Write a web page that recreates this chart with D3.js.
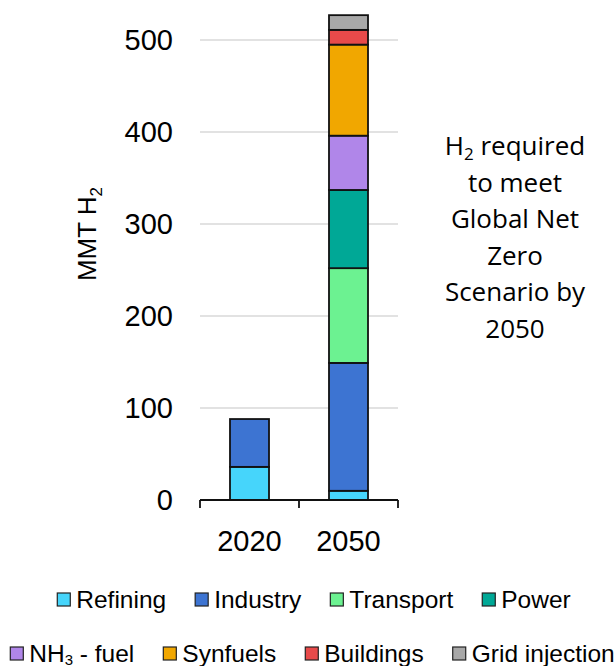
<!DOCTYPE html>
<html>
<head>
<meta charset="utf-8">
<script src="https://cdn.jsdelivr.net/npm/d3@7"></script>
<style>
  html, body { margin: 0; padding: 0; background: #fff; }
  svg { display: block; }
</style>
</head>
<body>
<svg id="chart" width="614" height="666"></svg>
<script>
// Hydrogen demand by end use, million metric tonnes of H2
const years = ["2020", "2050"];
const sectors = ["Refining", "Industry", "Transport", "Power", "NH3 - fuel", "Synfuels", "Buildings", "Grid injection"];
const refining   = [36, 10];
const industry   = [52, 139];
const transport  = [0, 103];
const power      = [0, 85];
const nh3Fuel    = [0, 59];
const synfuels   = [0, 99];
const buildings  = [0, 16];
const gridInject = [0, 16];
const yTicks = [0, 100, 200, 300, 400, 500];
const sectorColors = ["#46d5fb", "#3d74d2", "#6cf291", "#00a896", "#b086e9", "#f1a700", "#e84a4a", "#a8a8a8"];

const seriesValues = [refining, industry, transport, power, nh3Fuel, synfuels, buildings, gridInject];
const rows = years.map((yr, i) => {
  const r = { year: yr };
  sectors.forEach((s, k) => { r[s] = seriesValues[k][i]; });
  return r;
});

const svg = d3.select("#chart");
const axisFont = "'Liberation Sans', Arial, sans-serif";

const x = d3.scaleBand().domain(years).range([200, 398]).paddingInner(0.606).paddingOuter(0.303);
const y = d3.scaleLinear().domain([0, 500]).range([500, 40]);

// horizontal gridlines
svg.append("g").selectAll("line").data(yTicks.filter(t => t > 0)).join("line")
  .attr("x1", x.range()[0]).attr("x2", x.range()[1])
  .attr("y1", d => y(d)).attr("y2", d => y(d))
  .attr("stroke", "#d9d9d9").attr("stroke-width", 1.5);

// y tick labels
svg.append("g").selectAll("text").data(yTicks).join("text")
  .attr("x", 173).attr("y", d => y(d)).attr("dy", "0.36em")
  .attr("text-anchor", "end")
  .attr("font-family", axisFont).attr("font-size", 29).attr("fill", "#000")
  .text(d => d);

// y axis title
const yTitle = svg.append("text")
  .attr("transform", "translate(96,234) rotate(-90)")
  .attr("text-anchor", "middle")
  .attr("font-family", axisFont).attr("font-size", 26).attr("fill", "#000");
yTitle.append("tspan").text("MMT H");
yTitle.append("tspan").attr("font-size", 17).attr("dy", 6).text("2");

// stacked bars
const stack = d3.stack().keys(sectors)(rows);
svg.append("g").selectAll("g").data(stack).join("g")
  .attr("fill", (d, i) => sectorColors[i])
  .selectAll("rect").data(d => d.filter(p => p[1] - p[0] > 0)).join("rect")
  .attr("x", d => x(d.data.year))
  .attr("width", x.bandwidth())
  .attr("y", d => y(d[1]))
  .attr("height", d => y(d[0]) - y(d[1]))
  .attr("stroke", "#111").attr("stroke-width", 1.8);

// category axis with boundary ticks
const step = x.step();
const bounds = [x.range()[0]].concat(years.map(yr => x(yr) + x.bandwidth() + step * x.paddingInner() / 2));
const xAxis = svg.append("g");
xAxis.append("line")
  .attr("x1", x.range()[0]).attr("x2", x.range()[1]).attr("y1", y(0)).attr("y2", y(0))
  .attr("stroke", "#111").attr("stroke-width", 1.8);
xAxis.selectAll("line.tick").data(bounds).join("line").attr("class", "tick")
  .attr("x1", d => d).attr("x2", d => d).attr("y1", y(0)).attr("y2", y(0) + 8)
  .attr("stroke", "#111").attr("stroke-width", 1.8);
xAxis.selectAll("text").data(years).join("text")
  .attr("x", d => x(d) + x.bandwidth() / 2).attr("y", 551)
  .attr("text-anchor", "middle")
  .attr("font-family", axisFont).attr("font-size", 29).attr("fill", "#000")
  .text(d => d);

// annotation
const noteFont = "'Open Sans', sans-serif";
const note = svg.append("text")
  .attr("text-anchor", "middle")
  .attr("font-family", noteFont).attr("font-size", 26).attr("fill", "#000");
const noteLines = ["H2 required", "to meet", "Global Net", "Zero", "Scenario by", "2050"];
noteLines.forEach((ln, i) => {
  const t = note.append("tspan").attr("x", 515).attr("y", 155 + i * 36.6);
  if (i === 0) {
    t.append("tspan").text("H");
    t.append("tspan").attr("font-size", 17).attr("dy", 5).text("2");
    t.append("tspan").attr("dy", -5).text(" required");
  } else {
    t.text(ln);
  }
});

// legend in two centred rows
const legendRows = [[0, 1, 2, 3], [4, 5, 6, 7]];
const legendBase = [608, 662];
const legendCenter = [314, 312.5];
const sq = 13, gapText = 6, gapItem = 29;
legendRows.forEach((idxs, r) => {
  const g = svg.append("g");
  let cx = 0;
  idxs.forEach(k => {
    const item = g.append("g").attr("transform", `translate(${cx},0)`);
    item.append("rect")
      .attr("x", 0).attr("y", legendBase[r] - 15).attr("width", sq).attr("height", sq)
      .attr("fill", sectorColors[k]).attr("stroke", "#222").attr("stroke-width", 1.2);
    const t = item.append("text")
      .attr("x", sq + gapText).attr("y", legendBase[r])
      .attr("font-family", axisFont).attr("font-size", 24.5).attr("fill", "#000");
    if (sectors[k] === "NH3 - fuel") {
      t.append("tspan").text("NH");
      t.append("tspan").attr("font-size", 15).attr("dy", 3).text("3");
      t.append("tspan").attr("dy", -3).text(" - fuel");
    } else {
      t.text(sectors[k]);
    }
    cx += sq + gapText + t.node().getComputedTextLength() + gapItem;
  });
  const total = cx - gapItem;
  g.attr("transform", `translate(${legendCenter[r] - total / 2},0)`);
});
</script>
</body>
</html>
